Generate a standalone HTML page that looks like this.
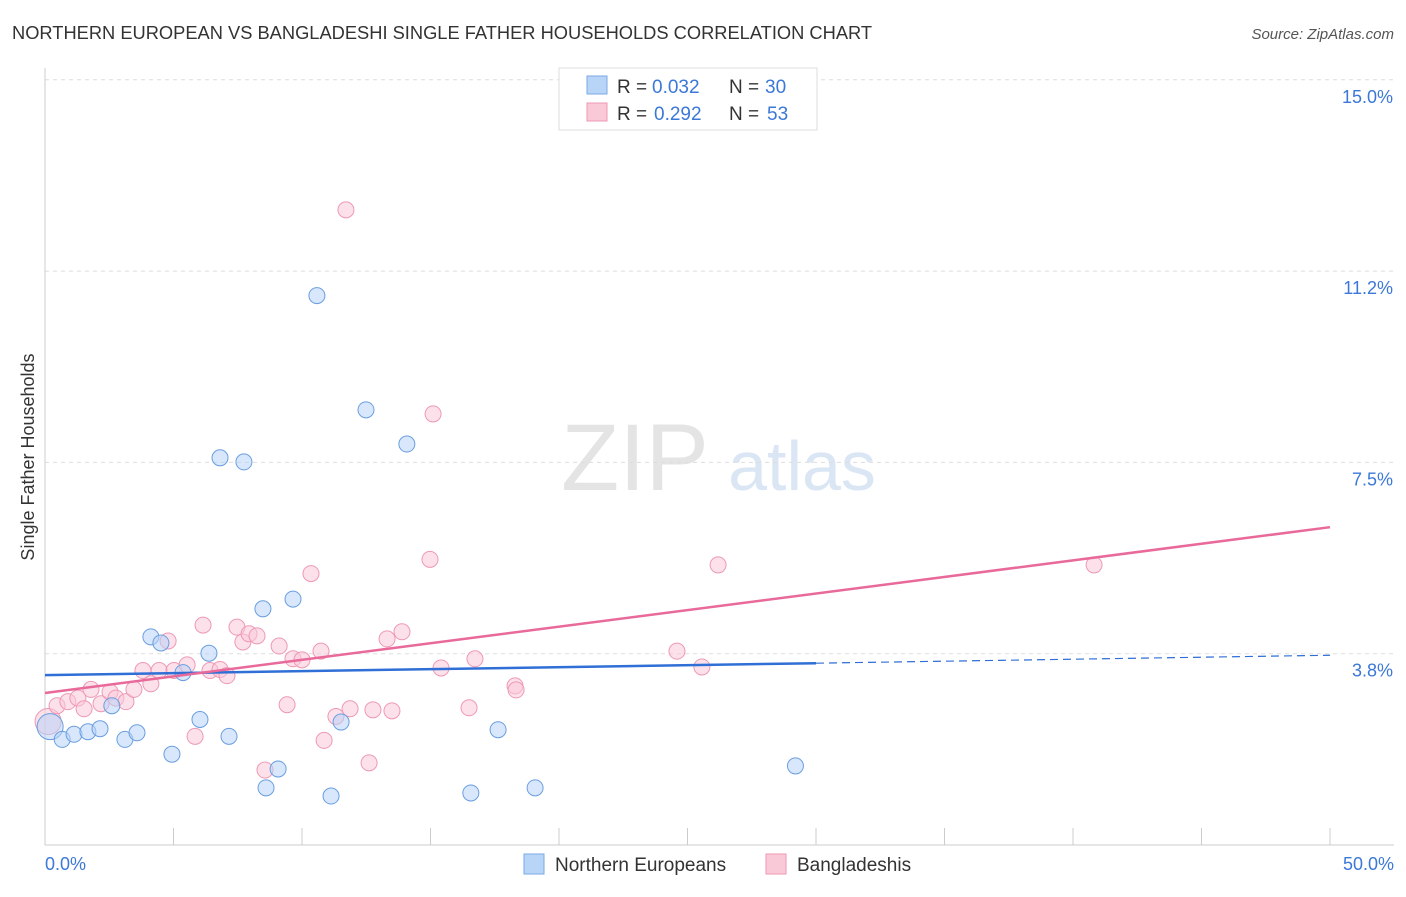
<!DOCTYPE html>
<html><head><meta charset="utf-8"><style>
body{margin:0;background:#fff;font-family:"Liberation Sans",sans-serif}
svg text{font-family:"Liberation Sans",sans-serif}
</style></head><body>
<svg width="1406" height="892">
<text x="12" y="39" font-size="18.3" fill="#333">NORTHERN EUROPEAN VS BANGLADESHI SINGLE FATHER HOUSEHOLDS CORRELATION CHART</text>
<text x="1394" y="39" font-size="15" fill="#555" text-anchor="end" font-style="italic">Source: ZipAtlas.com</text>
<text x="635" y="490" font-size="95" fill="#e4e4e4" text-anchor="middle" font-family="Liberation Serif">ZIP</text>
<text x="802" y="490" font-size="70" fill="#dbe6f5" text-anchor="middle">atlas</text>
<g id="grid"></g>
<g id="axes"></g>
<g id="marks"></g>
<text transform="translate(34,457) rotate(-90)" font-size="18" fill="#333" text-anchor="middle">Single Father Households</text>
<g>
<rect x="559" y="68" width="258" height="62" fill="#fff" stroke="#ddd"/>
<rect x="587" y="76" width="20" height="18" fill="#b8d4f7" stroke="#7aaae6"/>
<text y="93" font-size="19" fill="#333"><tspan x="617">R =</tspan><tspan x="652" fill="#3b78d8">0.032</tspan><tspan x="729">N =</tspan><tspan x="765" fill="#3b78d8">30</tspan></text>
<rect x="587" y="103" width="20" height="18" fill="#f9c9d8" stroke="#ee99b4"/>
<text y="120" font-size="19" fill="#333"><tspan x="617">R =</tspan><tspan x="654" fill="#3b78d8">0.292</tspan><tspan x="729">N =</tspan><tspan x="767" fill="#3b78d8">53</tspan></text>
</g>
<g>
<rect x="524" y="854" width="20" height="20" fill="#b8d4f7" stroke="#7aaae6"/>
<text x="555" y="871" font-size="19" fill="#333">Northern Europeans</text>
<rect x="766" y="854" width="20" height="20" fill="#f9c9d8" stroke="#ee99b4"/>
<text x="797" y="871" font-size="19" fill="#333">Bangladeshis</text>
</g>
</svg>
<script>
const yTicks=[3.75,7.5,11.25,15];
const yTickLabels=["3.8%","7.5%","11.2%","15.0%"];
const blueX=[0.2,0.67,1.13,1.67,2.14,2.6,3.11,3.58,4.12,4.51,4.94,5.37,6.03,6.38,6.81,7.16,7.74,8.48,8.6,9.07,9.65,10.58,11.13,11.52,12.49,14.08,16.57,17.63,19.07,29.2];
const blueY=[2.32,2.07,2.17,2.22,2.28,2.73,2.07,2.2,4.08,3.96,1.78,3.38,2.46,3.76,7.59,2.13,7.51,4.63,1.12,1.49,4.82,10.77,0.96,2.41,8.53,7.86,1.02,2.26,1.12,1.55];
const pinkX=[0.12,0.47,0.89,1.28,1.52,1.79,2.18,2.53,2.76,3.15,3.46,3.81,4.12,4.44,4.79,5.02,5.53,5.84,6.15,6.42,6.81,7.08,7.47,7.7,7.94,8.25,8.56,9.11,9.42,9.65,10.0,10.35,10.74,10.86,11.32,11.71,11.87,12.61,12.76,13.31,13.5,13.89,14.98,15.1,15.41,16.5,16.73,18.29,18.33,24.59,25.56,26.19,40.82];
const pinkY=[2.42,2.73,2.81,2.88,2.67,3.05,2.77,3.0,2.88,2.81,3.05,3.42,3.16,3.42,4.0,3.42,3.53,2.13,4.31,3.42,3.44,3.32,4.27,3.98,4.14,4.1,1.47,3.9,2.75,3.65,3.63,5.32,3.8,2.05,2.52,12.45,2.67,1.61,2.65,4.04,2.63,4.18,5.6,8.45,3.47,2.69,3.65,3.12,3.04,3.8,3.49,5.49,5.49];
const blueTrend=[3.33,0.0078];
const pinkTrend=[2.98,0.0650];
const NS="http://www.w3.org/2000/svg";
const X=v=>45+v/50*1285, Y=v=>845-v/3.75*191.3;
function mk(t,a,p){const e=document.createElementNS(NS,t);for(const k in a)e.setAttribute(k,a[k]);p.appendChild(e);return e;}
const grid=document.getElementById('grid'),axes=document.getElementById('axes'),marks=document.getElementById('marks');
yTicks.forEach((t,i)=>{
 const l=mk('line',{x1:45,x2:1394,y1:Y(t),y2:Y(t),stroke:'#ddd','stroke-dasharray':'4,4'},grid);
 
 
 const tx=mk('text',{x:1393,y:Y(t)+23,'font-size':18,fill:'#3b78d8','text-anchor':'end'},axes);
 tx.textContent=yTickLabels[i];
 
 
});
const ax=mk('line',{x1:45,x2:1394,y1:845,y2:845,stroke:'#ccc'},axes);


const ay=mk('line',{x1:45,x2:45,y1:68,y2:845,stroke:'#ccc'},axes);


for(let v=0;v<=50;v+=5){const t=mk('line',{x1:X(v),x2:X(v),y1:828,y2:845,stroke:'#ccc'},axes);
 
 }
[["0.0%",45,'start'],["50.0%",1394,'end']].forEach(a=>{const t=mk('text',{x:a[1],y:870,'font-size':18,fill:'#3b78d8','text-anchor':a[2]},axes);t.textContent=a[0];
 
 });
function pts(xs,ys,fill,stroke,name){xs.forEach((x,i)=>{const c=mk('circle',{cx:X(x),cy:Y(ys[i]),r:i==0?13:8,fill:fill,'fill-opacity':0.55,stroke:stroke,'stroke-width':1},marks);
 
 });}
pts(pinkX,pinkY,'#f9c9d8','#ee99b4','bangladeshi-point');
pts(blueX,blueY,'#b8d4f7','#6a9ee0','northern-european-point');
const f=(t,x)=>t[0]+t[1]*x;
let l1=mk('line',{x1:X(0),y1:Y(f(blueTrend,0)),x2:X(30),y2:Y(f(blueTrend,30)),stroke:'#2f6fd6','stroke-width':2.5},marks);


let l2=mk('line',{x1:X(30),y1:Y(f(blueTrend,30)),x2:X(50),y2:Y(f(blueTrend,50)),stroke:'#2f6fd6','stroke-width':1.2,'stroke-dasharray':'8,5'},marks);


let l3=mk('line',{x1:X(0),y1:Y(f(pinkTrend,0)),x2:X(50),y2:Y(f(pinkTrend,50)),stroke:'#e8699a','stroke-width':2.5},marks);


</script>
</body></html>
